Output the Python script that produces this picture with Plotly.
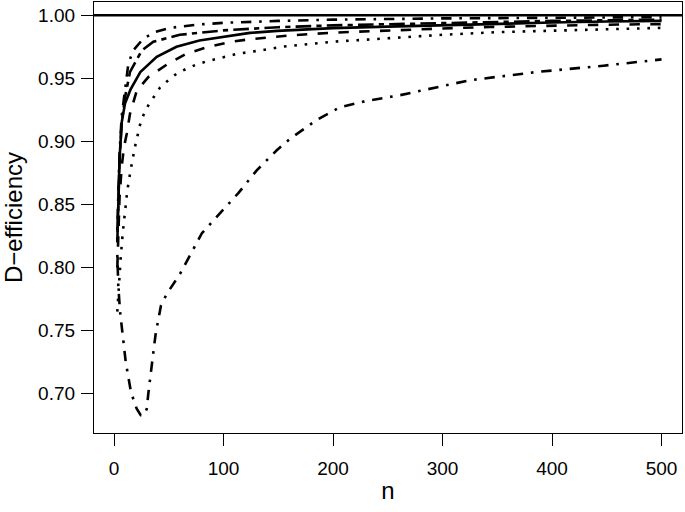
import plotly.graph_objects as go

# ---- data ----
n_solid = [3, 4, 5, 7, 10, 15, 24, 39, 57, 78, 100, 124, 149, 200, 250, 300, 352, 400, 450, 500]
v_solid = [0.820, 0.862, 0.885, 0.915, 0.930, 0.941, 0.955, 0.967, 0.975, 0.980, 0.983, 0.986,
           0.9876, 0.9898, 0.991, 0.9922, 0.9934, 0.9942, 0.995, 0.9955]

n_dash = [3, 4, 5, 7, 9, 11.6, 14.6, 20.7, 31.3, 49.6, 66.4, 86.1, 105.9, 124.2, 144, 160.7,
          200, 250, 300, 343, 400, 450, 500]
v_dash = [0.80, 0.835, 0.855, 0.88, 0.895, 0.906, 0.922, 0.940, 0.951, 0.9617, 0.9696, 0.9749,
          0.9788, 0.981, 0.9828, 0.984, 0.9862, 0.9880, 0.9895, 0.9907, 0.9918, 0.9925, 0.993]

n_dot = [3, 4, 5, 6.1, 7.9, 10, 12.1, 15.3, 19.2, 23.7, 26.8, 31.3, 35.9, 42, 49.6, 57.3, 66.4,
         75.5, 84.7, 95.3, 104.4, 113.5, 133.3, 153.2, 200, 250, 300, 350, 400, 450, 500]
v_dot = [0.765, 0.78, 0.795, 0.808, 0.827, 0.844, 0.861, 0.878, 0.896, 0.913, 0.9207, 0.9286,
         0.935, 0.9427, 0.9485, 0.9538, 0.9577, 0.961, 0.9635, 0.9657, 0.9675, 0.9696, 0.972,
         0.975, 0.979, 0.9820, 0.9845, 0.9866, 0.9878, 0.989, 0.990]

n_dip = [3, 3.9, 5.5, 7.6, 8.5, 10.7, 13.1, 15.5, 20.7, 24.4, 27.5, 29.9, 31.3, 32.9, 34.4, 36.5,
         38.1, 40.5, 42.9, 48.1, 55.7, 60.3, 80.1, 113.5, 130.3, 148.6, 160.7, 185, 206, 230,
         261, 325, 386, 447, 500]
v_dip = [0.81, 0.785, 0.765, 0.749, 0.737, 0.725, 0.713, 0.701, 0.688, 0.683, 0.683, 0.688,
         0.700, 0.713, 0.725, 0.737, 0.748, 0.759, 0.770, 0.779, 0.789, 0.795, 0.827, 0.859,
         0.877, 0.893, 0.902, 0.917, 0.927, 0.932, 0.9366, 0.9485, 0.955, 0.960, 0.965]

n_top1 = [3, 4, 5, 7, 10, 13.1, 17.6, 26.8, 37.4, 51.1, 75, 100, 150, 200, 300, 400, 500]
v_top1 = [0.83, 0.865, 0.89, 0.92, 0.9405, 0.9617, 0.9722, 0.9815, 0.9868, 0.990, 0.9925,
          0.9940, 0.9955, 0.9965, 0.9975, 0.998, 0.9985]

n_top2 = [3, 4, 5, 7, 10, 14.6, 25.3, 35.9, 60, 100, 150, 200, 300, 400, 500]
v_top2 = [0.82, 0.86, 0.885, 0.915, 0.935, 0.955, 0.972, 0.979, 0.9845, 0.988, 0.9905, 0.992,
          0.994, 0.9955, 0.9965]

reference_level = 1.0

x_ticks = [0, 100, 200, 300, 400, 500]
y_ticks = [0.70, 0.75, 0.80, 0.85, 0.90, 0.95, 1.00]
y_ticktext = ["0.70", "0.75", "0.80", "0.85", "0.90", "0.95", "1.00"]

# ---- figure ----
LW = 2.6
series = [
    (n_dot, v_dot, "2.6px,7.8px"),
    (n_dash, v_dash, "10.4px,10.4px"),
    (n_solid, v_solid, "solid"),
    (n_top2, v_top2, "5.2px,5.2px,15.6px,5.2px"),
    (n_top1, v_top1, "2.6px,7.8px,10.4px,7.8px"),
    (n_dip, v_dip, "2.6px,7.8px,10.4px,7.8px"),
]

fig = go.Figure()
for xs, ys, dash in series:
    fig.add_trace(go.Scatter(x=xs, y=ys, mode="lines",
                             line=dict(color="black", width=LW, dash=dash),
                             hoverinfo="skip"))

fig.add_hline(y=reference_level, line=dict(color="black", width=2.6))

font_family = "Liberation Sans, Arial, Helvetica, sans-serif"
axis_common = dict(showgrid=False, zeroline=False, showline=True, linecolor="black",
                   linewidth=1.3, mirror=True, ticks="outside", ticklen=12, tickwidth=1.3,
                   tickcolor="black", tickfont=dict(size=19, color="black", family=font_family))

fig.update_layout(
    width=685, height=512,
    margin=dict(l=94, r=3, t=2, b=79),
    plot_bgcolor="white", paper_bgcolor="white",
    showlegend=False,
    font=dict(family=font_family, color="black"),
    xaxis=dict(range=[-18.3, 518.7], tickvals=x_ticks, ticklabelstandoff=6,
               title=dict(text="n", font=dict(size=24), standoff=4), **axis_common),
    yaxis=dict(range=[0.6688, 1.0105], tickvals=y_ticks, ticktext=y_ticktext,
               ticklabelstandoff=2,
               title=dict(text="D\u2212efficiency", font=dict(size=24), standoff=10),
               **axis_common),
)

fig.write_html("out.html", config={"displayModeBar": False},
               post_script="document.body.style.margin='0';")
